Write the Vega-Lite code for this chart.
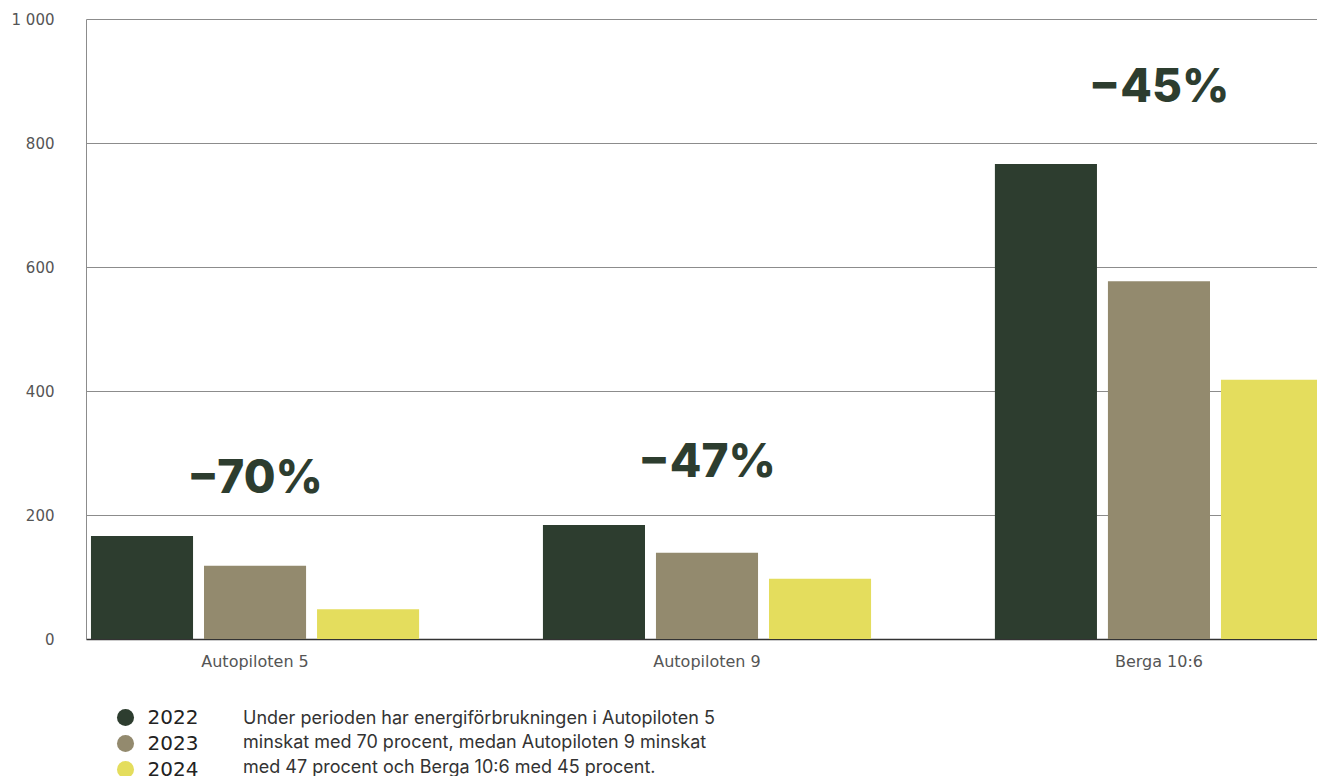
{
  "$schema": "https://vega.github.io/schema/vega-lite/v6.json",
  "autosize": {"type": "none"},
  "padding": {"left": 86, "top": 19, "right": 0, "bottom": 137},
  "width": 1231,
  "height": 620,
  "background": "white",
  "config": {"view": {"stroke": null}},
  "title": {
    "text": [
      "Under perioden har energiförbrukningen i Autopiloten 5",
      "minskat med 70 procent, medan Autopiloten 9 minskat",
      "med 47 procent och Berga 10:6 med 45 procent."
    ],
    "orient": "bottom",
    "anchor": "start",
    "frame": "group",
    "dx": 157,
    "offset": -70,
    "font": "Inter",
    "fontSize": 18,
    "fontWeight": "normal",
    "color": "#333333",
    "lineHeight": 24.5,
    "baseline": "top"
  },
  "layer": [
    {
      "data": {
        "values": [
          {"Fastighet": "Autopiloten 5", "År": "2022", "Energi": 166},
          {"Fastighet": "Autopiloten 5", "År": "2023", "Energi": 118},
          {"Fastighet": "Autopiloten 5", "År": "2024", "Energi": 48},
          {"Fastighet": "Autopiloten 9", "År": "2022", "Energi": 184},
          {"Fastighet": "Autopiloten 9", "År": "2023", "Energi": 139},
          {"Fastighet": "Autopiloten 9", "År": "2024", "Energi": 97},
          {"Fastighet": "Berga 10:6", "År": "2022", "Energi": 766},
          {"Fastighet": "Berga 10:6", "År": "2023", "Energi": 577},
          {"Fastighet": "Berga 10:6", "År": "2024", "Energi": 418}
        ]
      },
      "mark": {"type": "bar"},
      "encoding": {
        "x": {
          "field": "Fastighet",
          "type": "nominal",
          "sort": null,
          "scale": {"domain": ["Autopiloten 5", "Autopiloten 9", "Berga 10:6"], "range": [0, 1242], "paddingInner": 0.274, "paddingOuter": 0.011},
          "axis": {
            "title": null,
            "labelAngle": 0,
            "ticks": false,
            "grid": false,
            "domainColor": "#333333",
            "domainWidth": 1.5,
            "labelPadding": 14,
            "labelFont": "DejaVu Sans",
            "labelFontSize": 16,
            "labelColor": "#555555"
          }
        },
        "xOffset": {
          "field": "År",
          "type": "nominal",
          "scale": {"paddingInner": 0.097, "paddingOuter": 0}
        },
        "y": {
          "field": "Energi",
          "type": "quantitative",
          "scale": {"domain": [0, 1000]},
          "axis": {
            "title": null,
            "values": [0, 200, 400, 600, 800, 1000],
            "labelExpr": "replace(format(datum.value, ','), ',', ' ')",
            "grid": true,
            "gridColor": "#8c8c8c",
            "gridWidth": 1,
            "domainColor": "#8c8c8c",
            "ticks": false,
            "labelPadding": 32,
            "labelFont": "DejaVu Sans",
            "labelFontSize": 15,
            "labelColor": "#555555"
          }
        },
        "color": {
          "field": "År",
          "type": "nominal",
          "scale": {"domain": ["2022", "2023", "2024"], "range": ["#2d3d2f", "#938a6e", "#e4dd5d"]},
          "legend": {
            "orient": "none",
            "legendX": 29.5,
            "legendY": 688.5,
            "title": null,
            "symbolType": "circle",
            "symbolSize": 290,
            "symbolStrokeWidth": 0,
            "symbolOpacity": 1,
            "labelFont": "DejaVu Sans",
            "labelFontSize": 20,
            "labelColor": "#222222",
            "rowPadding": 6,
            "labelOffset": 12
          }
        }
      }
    },
    {
      "data": {
        "values": [
          {"Fastighet": "Autopiloten 5", "label": "−70%", "pos": 258},
          {"Fastighet": "Autopiloten 9", "label": "−47%", "pos": 284},
          {"Fastighet": "Berga 10:6", "label": "−45%", "pos": 888}
        ]
      },
      "mark": {"type": "text", "font": "Inter", "fontSize": 46, "fontWeight": 800, "color": "#2d3d2f", "baseline": "middle", "align": "center"},
      "encoding": {
        "x": {"field": "Fastighet", "type": "nominal", "sort": null},
        "y": {"field": "pos", "type": "quantitative"},
        "text": {"field": "label"}
      }
    }
  ]
}
